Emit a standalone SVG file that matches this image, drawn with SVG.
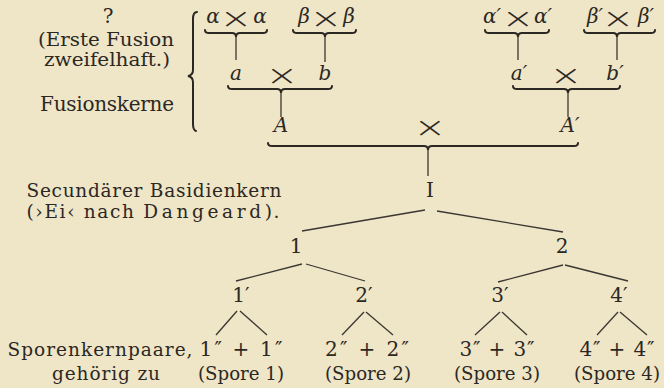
<svg xmlns="http://www.w3.org/2000/svg" width="664" height="388" viewBox="0 0 664 388">
<style>
text{font-family:"DejaVu Serif","Liberation Serif",serif;fill:#2b2824;font-size:20px;text-anchor:middle}
.i{font-style:italic}
.x{font-size:28px;font-family:"DejaVu Sans",sans-serif;font-weight:300}
.s{font-size:20px}
.t{font-size:18.5px}
.br{fill:none;stroke:#2b2824;stroke-width:2;stroke-linecap:round}
.ln{fill:none;stroke:#3a3632;stroke-width:1.3}
</style>
<rect width="664" height="388" fill="#efe5c7"/>
<g id="labels">
<text x="108" y="23" font-size="17">?</text>
<text class="t" x="106" y="46" textLength="136" lengthAdjust="spacingAndGlyphs">(Erste Fusion</text>
<text class="t" x="107" y="66" textLength="126" lengthAdjust="spacingAndGlyphs">zweifelhaft.)</text>
<text x="107" y="111" textLength="134" lengthAdjust="spacing">Fusionskerne</text>
<text class="t" x="154" y="197" textLength="255" lengthAdjust="spacing">Secundärer Basidienkern</text>
<text class="t" x="153" y="218" textLength="253" lengthAdjust="spacing">(›Ei‹ nach <tspan letter-spacing="2">Dangeard</tspan>).</text>
<text class="t" x="100" y="356" textLength="185" lengthAdjust="spacing">Sporenkernpaare,</text>
<text class="t" x="106" y="380" textLength="108" lengthAdjust="spacing">gehörig zu</text>
</g>
<g id="connectors">
<path class="br" d="M197,12 Q193,12 193,19 L193,70 Q193,75 188,76 Q193,77 193,82 L193,124 Q193,130 196,131"/>
<path class="br" d="M205,30 Q205,33 209,33 L232,33 Q236,33 236,37 Q236,33 240,33 L263,33 Q267,33 267,30"/>
<path class="br" d="M293,30 Q293,33 297,33 L321,33 Q325,33 325,37 Q325,33 329,33 L352,33 Q356,33 356,30"/>
<path class="br" d="M228,86 Q228,89 232,89 L277,89 Q281,89 281,93 Q281,89 285,89 L328,89 Q332,89 332,86"/>
<path class="br" d="M485,30 Q485,33 489,33 L514,33 Q518,33 518,37 Q518,33 522,33 L545,33 Q549,33 549,30"/>
<path class="br" d="M584,30 Q584,33 588,33 L613,33 Q617,33 617,37 Q617,33 621,33 L651,33 Q655,33 655,30" stroke-width="1.6"/>
<path class="br" d="M513,86 Q513,89 517,89 L564,89 Q568,89 568,93 Q568,89 572,89 L616,89 Q620,89 620,86"/>
<path class="br" d="M268,143 Q268,146 272,146 L424,146 Q428,146 428,150 Q428,146 432,146 L574,146 Q578,146 578,143"/>
<line class="ln" x1="236" y1="37" x2="236" y2="60"/>
<line class="ln" x1="325" y1="37" x2="325" y2="62"/>
<line class="ln" x1="518" y1="37" x2="518" y2="60"/>
<line class="ln" x1="617" y1="37" x2="617" y2="60"/>
<line class="ln" x1="281" y1="93" x2="281" y2="117"/>
<line class="ln" x1="568" y1="93" x2="568" y2="117"/>
<line class="ln" x1="428" y1="150" x2="428" y2="176"/>
<line class="ln" x1="425" y1="210" x2="302" y2="231"/>
<line class="ln" x1="437" y1="211" x2="563" y2="232"/>
<line class="ln" x1="302" y1="264" x2="236" y2="281"/>
<line class="ln" x1="306" y1="264" x2="365" y2="281"/>
<line class="ln" x1="563" y1="265" x2="498" y2="282"/>
<line class="ln" x1="565" y1="265" x2="628" y2="281"/>
<line class="ln" x1="237" y1="311" x2="216" y2="335"/>
<line class="ln" x1="240" y1="311" x2="267" y2="335"/>
<line class="ln" x1="364" y1="312" x2="342" y2="335"/>
<line class="ln" x1="366" y1="312" x2="393" y2="335"/>
<line class="ln" x1="500" y1="312" x2="475" y2="335"/>
<line class="ln" x1="502" y1="312" x2="527" y2="335"/>
<line class="ln" x1="618" y1="312" x2="597" y2="335"/>
<line class="ln" x1="620" y1="312" x2="647" y2="335"/>
</g>
<g id="n-alpha"><text class="i" x="213" y="23">α</text><text class="x" x="236" y="28" transform="translate(236 0) scale(1.4 1) translate(-236 0)">×</text><text class="i" x="260" y="23">α</text></g>
<g id="n-beta"><text class="i" x="304" y="23">β</text><text class="x" x="326" y="28" transform="translate(326 0) scale(1.4 1) translate(-326 0)">×</text><text class="i" x="349" y="23">β</text></g>
<g id="n-alpha2"><text class="i" x="492" y="23">α′</text><text class="x" x="518" y="28" transform="translate(518 0) scale(1.4 1) translate(-518 0)">×</text><text class="i" x="543" y="23">α′</text></g>
<g id="n-beta2"><text class="i" x="595" y="23">β′</text><text class="x" x="618" y="28" transform="translate(618 0) scale(1.4 1) translate(-618 0)">×</text><text class="i" x="646" y="23">β′</text></g>
<g id="n-ab"><text class="i" x="236" y="80">a</text><text class="x" x="282" y="85" transform="translate(282 0) scale(1.4 1) translate(-282 0)">×</text><text class="i" x="325" y="80">b</text></g>
<g id="n-ab2"><text class="i" x="519" y="80">a′</text><text class="x" x="566" y="85" transform="translate(566 0) scale(1.4 1) translate(-566 0)">×</text><text class="i" x="615" y="80">b′</text></g>
<g id="n-A"><text class="i" x="281" y="132">A</text></g>
<g id="n-x"><text class="x" x="430" y="137" transform="translate(430 0) scale(1.4 1) translate(-430 0)">×</text></g>
<g id="n-A2"><text class="i" x="570" y="132">A′</text></g>
<g id="n-I"><text x="430" y="197">I</text></g>
<g id="n-1"><text x="296" y="253">1</text></g>
<g id="n-2"><text x="562" y="253">2</text></g>
<g id="n-1p"><text x="241" y="302">1′</text></g>
<g id="n-2p"><text x="364" y="302">2′</text></g>
<g id="n-3p"><text x="500" y="302">3′</text></g>
<g id="n-4p"><text x="619" y="302">4′</text></g>
<g id="s-1"><text class="s" x="241" y="356" textLength="83" lengthAdjust="spacing">1″ + 1″</text><text class="t" x="241" y="380" textLength="86" lengthAdjust="spacingAndGlyphs">(Spore 1)</text></g>
<g id="s-2"><text class="s" x="367" y="356" textLength="84" lengthAdjust="spacing">2″ + 2″</text><text class="t" x="368" y="380" textLength="86" lengthAdjust="spacingAndGlyphs">(Spore 2)</text></g>
<g id="s-3"><text class="s" x="497" y="356" textLength="75" lengthAdjust="spacing">3″ + 3″</text><text class="t" x="497" y="380" textLength="86" lengthAdjust="spacingAndGlyphs">(Spore 3)</text></g>
<g id="s-4"><text class="s" x="617" y="356" textLength="75" lengthAdjust="spacing">4″ + 4″</text><text class="t" x="617" y="380" textLength="86" lengthAdjust="spacingAndGlyphs">(Spore 4)</text></g>
</svg>
